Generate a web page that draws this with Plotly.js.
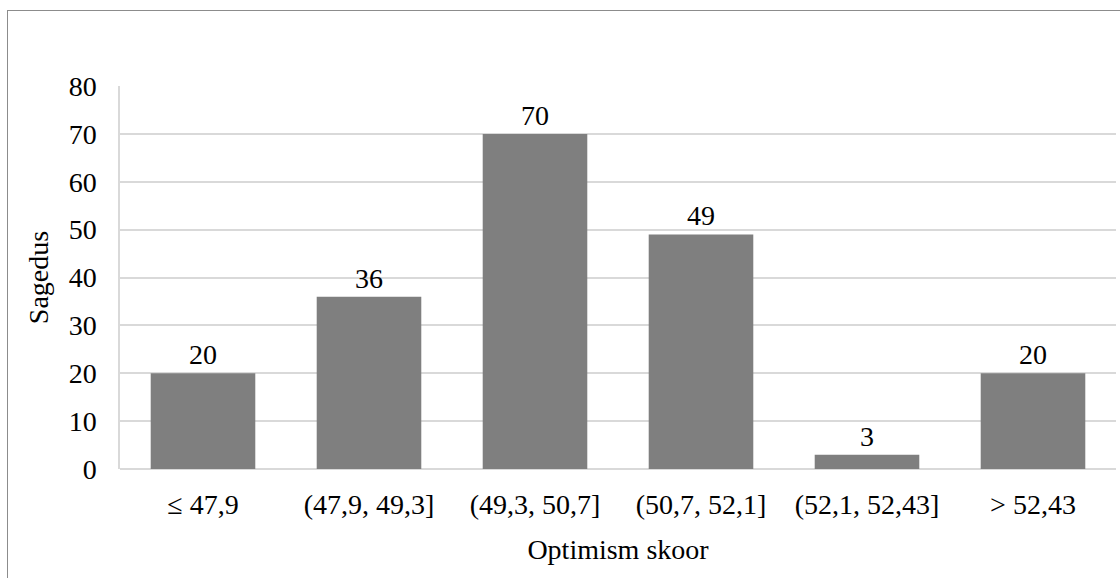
<!DOCTYPE html>
<html>
<head>
<meta charset="utf-8">
<script src="https://cdn.plot.ly/plotly-3.0.1.min.js"></script>
</head>
<body style="margin:0">
<div style="position:relative;width:1120px;height:578px;overflow:hidden">
  <div id="chart" style="width:1120px;height:578px"></div>
  <div style="position:absolute;left:7px;top:10px;width:1200px;height:700px;border-left:1.5px solid #8c8c8c;border-top:1.5px solid #8c8c8c;pointer-events:none"></div>
</div>
<script>
// Score intervals and how many respondents fall in each
const categories = ["\u2264 47,9", "(47,9, 49,3]", "(49,3, 50,7]", "(50,7, 52,1]", "(52,1, 52,43]", "> 52,43"];
const counts = [20, 36, 70, 49, 3, 20];
const yTicks = [0, 10, 20, 30, 40, 50, 60, 70, 80];

const textFont = { family: "Times New Roman", size: 28, color: "#000000" };

const trace = {
  type: "bar",
  x: categories,
  y: counts,
  text: counts.map(String),
  textposition: "outside",
  cliponaxis: false,
  textfont: textFont,
  marker: { color: "#7f7f7f" },
  hoverinfo: "x+y"
};

const layout = {
  width: 1120,
  height: 578,
  margin: { l: 120, r: 4, t: 86, b: 109 },
  paper_bgcolor: "#ffffff",
  plot_bgcolor: "#ffffff",
  bargap: 0.37,
  showlegend: false,
  font: textFont,
  xaxis: {
    type: "category",
    showgrid: false,
    showline: false,
    zeroline: false,
    ticks: "",
    ticklabelstandoff: 16,
    tickfont: textFont,
    title: { text: "Optimism skoor", font: textFont, standoff: 20 }
  },
  yaxis: {
    range: [0, 80],
    tickvals: yTicks,
    showgrid: true,
    gridcolor: "#d9d9d9",
    gridwidth: 1.5,
    zeroline: true,
    zerolinecolor: "#d9d9d9",
    zerolinewidth: 1.5,
    showline: true,
    linecolor: "#d9d9d9",
    linewidth: 1.5,
    ticks: "",
    ticklabelstandoff: 16,
    tickfont: textFont,
    title: { text: "Sagedus", font: textFont, standoff: 12 }
  }
};

Plotly.newPlot("chart", [trace], layout, { displayModeBar: false });
</script>
</body>
</html>
